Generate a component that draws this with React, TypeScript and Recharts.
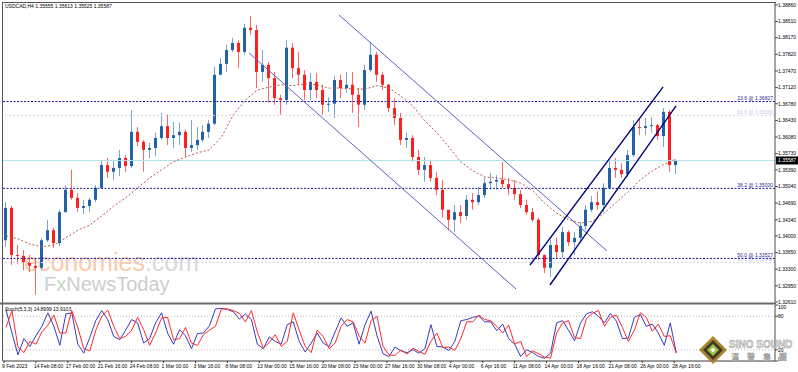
import React from 'react';
import {
  ComposedChart,
  LineChart,
  Bar,
  Line,
  XAxis,
  YAxis,
  ReferenceLine,
} from 'recharts';

// USDCAD H4, one candle here = three H4 bars (12h)
const firstOpen = 1.3391;

const closes = [
  1.3459, 1.336, 1.3358, 1.3345, 1.3337, 1.3333, 1.3391, 1.3412, 1.3385, 1.345,
  1.3497, 1.348, 1.3459, 1.3463, 1.3476, 1.3501, 1.3549, 1.3535, 1.3543, 1.3564,
  1.3547, 1.3619, 1.3598, 1.3581, 1.3585, 1.3606, 1.3631, 1.3606, 1.3612, 1.3619,
  1.3585, 1.3591, 1.3602, 1.3619, 1.3636, 1.3739, 1.3762, 1.3791, 1.3806, 1.3787,
  1.3838, 1.3833, 1.3745, 1.376, 1.3732, 1.369, 1.3686, 1.3796, 1.3753, 1.3739,
  1.3707, 1.3724, 1.3707, 1.3676, 1.3678, 1.3728, 1.3711, 1.3718, 1.3697, 1.3676,
  1.3749, 1.3781, 1.3739, 1.3718, 1.3669, 1.3648, 1.3602, 1.3606, 1.3566, 1.3539,
  1.3549, 1.3522, 1.3497, 1.3455, 1.3434, 1.345, 1.3442, 1.3476, 1.3471, 1.3486,
  1.3511, 1.3514, 1.3518, 1.3509, 1.3501, 1.3488, 1.3465, 1.345, 1.3434, 1.336,
  1.3333, 1.3381, 1.3366, 1.3408, 1.3387, 1.3396, 1.3421, 1.3455, 1.3471, 1.3465,
  1.3501, 1.3543, 1.3539, 1.353, 1.357, 1.3629, 1.3627, 1.3631, 1.3633, 1.361,
  1.3661, 1.3549, 1.35587,
];

const highs = [
  1.3471, 1.3463, 1.3381, 1.337, 1.336, 1.3354, 1.3396, 1.3434, 1.3417, 1.3455,
  1.3507, 1.3539, 1.349, 1.3476, 1.348, 1.3507, 1.356, 1.3564, 1.356, 1.3581,
  1.357, 1.3665, 1.3629, 1.3602, 1.3596, 1.3617, 1.3659, 1.3655, 1.364, 1.3638,
  1.3623, 1.3644, 1.3629, 1.3633, 1.3644, 1.3756, 1.3774, 1.3802, 1.3817, 1.3812,
  1.3846, 1.3863, 1.3844, 1.3791, 1.3766, 1.3745, 1.3697, 1.3812, 1.3806, 1.3787,
  1.3749, 1.3743, 1.3743, 1.3718, 1.3692, 1.3737, 1.3739, 1.3745, 1.3745, 1.3711,
  1.376, 1.3808, 1.3787, 1.3745, 1.372, 1.369, 1.3659, 1.3617, 1.3612, 1.3581,
  1.3566, 1.356, 1.3535, 1.3518, 1.3455, 1.3465, 1.3465, 1.3486, 1.349, 1.3503,
  1.3522, 1.3532, 1.3528, 1.3556, 1.3522, 1.3518, 1.3497, 1.3476, 1.3459, 1.3438,
  1.336, 1.3391, 1.3396, 1.3419, 1.3412, 1.3408, 1.3429, 1.3465, 1.3484, 1.3493,
  1.3511, 1.356, 1.3564, 1.3553, 1.3581, 1.3644, 1.3648, 1.3648, 1.365, 1.3636,
  1.3669, 1.3665, 1.35613,
];

const lows = [
  1.3377, 1.3339, 1.3341, 1.3328, 1.3324, 1.3276, 1.3328, 1.3387, 1.3375, 1.3379,
  1.345, 1.3476, 1.345, 1.3446, 1.345, 1.3471, 1.3501, 1.3522, 1.3518, 1.3526,
  1.3535, 1.3543, 1.3589, 1.3535, 1.3564, 1.3568, 1.3602, 1.3591, 1.3585, 1.3591,
  1.3566, 1.3577, 1.3581, 1.3598, 1.3606, 1.3633, 1.3739, 1.3745, 1.3787, 1.3753,
  1.3781, 1.3823, 1.3711, 1.3724, 1.368, 1.3676, 1.3655, 1.3676, 1.3732, 1.3718,
  1.3686, 1.3686, 1.369, 1.3655, 1.3661, 1.3648, 1.369, 1.3701, 1.3659, 1.3629,
  1.3665, 1.3745, 1.3724, 1.3707, 1.3661, 1.3633, 1.3591, 1.3585, 1.3556, 1.3528,
  1.3514, 1.3514, 1.3486, 1.3438, 1.3412, 1.3408, 1.3427, 1.3434, 1.3455, 1.3465,
  1.348, 1.3497, 1.3497, 1.3501, 1.3486, 1.3476, 1.3459, 1.3444, 1.3429, 1.3349,
  1.3322, 1.3314, 1.3354, 1.3354, 1.3379, 1.336, 1.3387, 1.3412, 1.345, 1.3455,
  1.345, 1.3497, 1.3522, 1.3522, 1.3524, 1.3566, 1.3612, 1.3612, 1.3617, 1.3602,
  1.3587, 1.3535, 1.353,
];

// moving average, read on every second candle
const maPoints = [
  1.34, 1.3394, 1.3383, 1.3377, 1.3381, 1.3396, 1.3412, 1.3423, 1.3442, 1.3463,
  1.348, 1.3501, 1.3522, 1.3539, 1.3556, 1.3566, 1.3575, 1.3581, 1.3608, 1.3655,
  1.3686, 1.3707, 1.3713, 1.3718, 1.3716, 1.372, 1.3718, 1.3711, 1.3711, 1.3709,
  1.3709, 1.3716, 1.3711, 1.3694, 1.3673, 1.3642, 1.3617, 1.3587, 1.3556, 1.3537,
  1.3524, 1.3522, 1.3518, 1.3511, 1.3495, 1.3469, 1.3448, 1.3434, 1.3427, 1.3431,
  1.3448, 1.3471, 1.3493, 1.3518, 1.3537, 1.3551, 1.3562,
];

const stochK = [
  92, 50, 11, 40, 26, 45, 62, 86, 62, 28,
  84, 86, 30, 14, 42, 72, 90, 74, 44, 38,
  55, 74, 68, 32, 40, 68, 86, 50, 30, 56,
  45, 22, 49, 50, 63, 93, 94, 92, 88, 75,
  84, 74, 30, 22, 43, 35, 30, 65, 70, 35,
  16, 32, 50, 32, 26, 52, 77, 62, 68, 30,
  65, 89, 45, 13, 8, 25, 18, 15, 20, 14,
  22, 65, 26, 25, 19, 35, 72, 74, 78, 80,
  70, 70, 54, 66, 40, 30, 8, 20, 15, 8,
  5, 14, 68, 72, 55, 36, 68, 84, 88, 80,
  68, 85, 71, 40, 41, 78, 83, 62, 66, 50,
  28, 68, 14.8999,
];

const stochD = [
  60, 90, 25, 15, 35, 30, 52, 64, 82, 50,
  50, 90, 60, 22, 18, 55, 80, 91, 62, 40,
  44, 55, 78, 56, 28, 50, 77, 78, 38, 40,
  60, 32, 28, 47, 55, 62, 93, 93, 90, 85,
  70, 90, 52, 23, 33, 47, 26, 35, 86, 55,
  26, 15, 55, 44, 22, 32, 62, 74, 70, 45,
  32, 72, 80, 26, 11, 10, 20, 12, 23, 17,
  12, 35, 50, 24, 25, 19, 40, 70, 70, 82,
  74, 72, 62, 50, 64, 30, 35, 8, 18, 13,
  7, 5, 50, 68, 72, 42, 40, 76, 85, 90,
  62, 78, 82, 60, 35, 55, 86, 78, 53, 66,
  44, 45, 13.9103,
];

const priceTicks = [
  1.3886, 1.3851, 1.3817, 1.3782, 1.3747, 1.3712, 1.3678, 1.3643, 1.3608, 1.3573,
  1.3539, 1.3504, 1.3469, 1.3434, 1.34, 1.3365, 1.333, 1.3295, 1.3261,
];
const stochTicks = [0, 20, 80, 100];

// positions in H4 bars from the first label
const dateTicks = [0, 16, 32, 48, 64, 80, 96, 112, 128, 144, 160, 176, 192, 208, 224, 240, 256, 272, 288, 304, 320, 336];
const dateLabels = [
  '9 Feb 2023', '14 Feb 08:00', '17 Feb 00:00', '21 Feb 16:00', '24 Feb 08:00', '1 Mar 00:00',
  '3 Mar 16:00', '8 Mar 08:00', '13 Mar 00:00', '15 Mar 16:00', '20 Mar 08:00', '23 Mar 00:00',
  '27 Mar 16:00', '30 Mar 08:00', '4 Apr 00:00', '6 Apr 16:00', '11 Apr 08:00', '14 Apr 00:00',
  '18 Apr 16:00', '21 Apr 08:00', '26 Apr 00:00', '28 Apr 16:00',
];

const fibLevels = [
  { text: '23.6 @ 1.36827', price: 1.36827 },
  { text: '38.2 @ 1.35000', price: 1.35 },
  { text: '50.0 @ 1.33527', price: 1.33527 },
];
const fibFaint = [
  { text: '61.8 @ 1.36536', price: 1.36536 },
  { text: '50.0 @ 1.33440', price: 1.3344 },
];
const lastPrice = 1.35587;

// drawn channels, [bar, price] end points
const downChannel = [
  [[167.9, 1.38649], [302.3, 1.33683]],
  [[122.8, 1.3785], [256.7, 1.32883]],
];
const upChannel = [
  [[263.7, 1.33388], [330.4, 1.37134]],
  [[273.7, 1.32968], [336.9, 1.36734]],
];

const candles = closes.map((c, i) => ({
  h: i * 3 + 1,
  open: i === 0 ? firstOpen : closes[i - 1],
  high: highs[i],
  low: lows[i],
  close: c,
  range: [lows[i], highs[i]],
  ma: i % 2 === 0 ? maPoints[i / 2] : null,
}));

const stoch = stochK.map((k, i) => ({ h: i * 3 + 1, k, d: stochD[i] }));

const FONT = '"Liberation Sans", Arial, sans-serif';

function Candle(props: any) {
  const { x, y, width, height, payload } = props;
  if (!payload || payload.high === payload.low) return null;
  const top = Math.min(y, y + height);
  const span = Math.abs(height);
  const k = span / (payload.high - payload.low);
  const yOf = (v: number) => top + (payload.high - v) * k;
  const up = payload.close >= payload.open;
  const cx = Math.floor(x + width / 2) + 0.5;
  const bTop = yOf(Math.max(payload.open, payload.close));
  const bBot = yOf(Math.min(payload.open, payload.close));
  return (
    <g>
      <line x1={cx} x2={cx} y1={top} y2={top + span} stroke={up ? '#7aa3cd' : '#ff6565'} strokeWidth={1} />
      <rect x={cx - 1.5} y={bTop} width={3} height={Math.max(1, bBot - bTop)} fill={up ? '#2462a8' : '#ff1f1f'} />
    </g>
  );
}

function FibLabel(props: any) {
  const { viewBox, text, color } = props;
  if (!viewBox) return null;
  return (
    <text x={viewBox.x + viewBox.width - 2} y={viewBox.y - 1.5} textAnchor="end" fontSize={5} fill={color} fontFamily={FONT}>
      {text}
    </text>
  );
}

function PriceTag(props: any) {
  const { viewBox } = props;
  if (!viewBox) return null;
  const x = viewBox.x + viewBox.width + 1;
  return (
    <g>
      <rect x={x} y={viewBox.y - 4} width={22} height={8} fill="#000" />
      <text x={x + 2} y={viewBox.y + 2} fontSize={5} fill="#fff" fontFamily={FONT}>
        {lastPrice.toFixed(5)}
      </text>
    </g>
  );
}

function DateTick(props: any) {
  const { x, y, payload } = props;
  const idx = dateTicks.indexOf(payload.value);
  return (
    <g>
      <line x1={x} x2={x} y1={y} y2={y + 2} stroke="#333" />
      <text x={x - 2} y={y + 7} fontSize={5} fill="#000" fontFamily={FONT}>
        {dateLabels[idx]}
      </text>
    </g>
  );
}

function StochTick(props: any) {
  const { x, y, payload } = props;
  // top label sits a little lower, clear of the price axis
  const dy = payload.value === 100 ? 2.5 : payload.value === 0 ? -1.5 : 0;
  return (
    <text x={x} y={y + dy + 1.8} fontSize={5} fill="#000" fontFamily={FONT}>
      {payload.value}
    </text>
  );
}

export default function App() {
  return (
    <div
      style={{
        position: 'absolute',
        left: 0,
        top: 0,
        width: 798,
        height: 372,
        background: '#fff',
        overflow: 'hidden',
        fontFamily: FONT,
      }}
    >
      {/* watermark */}
      <svg width={798} height={372} style={{ position: 'absolute', left: 0, top: 0 }}>
        <text x={24} y={271} fontSize={25} fontFamily={FONT} fill="#fccaa8">
          economies<tspan fill="#d9d9d9">.com</tspan>
        </text>
        <text x={44} y={291} fontSize={20} fontFamily={FONT} fill="#cdcdcd">
          F<tspan fill="#c6d6c6">x</tspan>NewsToday
        </text>
      </svg>

      <div style={{ position: 'absolute', left: 0, top: 0 }}>
        <ComposedChart width={798} height={306} data={candles} margin={{ top: 3, right: 0, bottom: 4, left: 3 }}>
          <XAxis type="number" dataKey="h" domain={[-0.5, 386.5]} hide allowDataOverflow />
          <YAxis
            orientation="right"
            type="number"
            domain={[1.3261, 1.389]}
            ticks={priceTicks}
            interval={0}
            width={23}
            tickSize={3}
            tickMargin={0}
            allowDataOverflow
            axisLine={{ stroke: '#4a4a4a' }}
            tickLine={{ stroke: '#4a4a4a' }}
            tick={{ fontSize: 5, fill: '#000', fontFamily: FONT }}
            tickFormatter={(v: number) => v.toFixed(5)}
          />
          {fibFaint.map((f) => (
            <ReferenceLine
              key={f.text}
              y={f.price}
              stroke="#d4d4ec"
              strokeDasharray="2 2"
              label={<FibLabel text={f.text} color="#c8c8e8" />}
            />
          ))}
          {fibLevels.map((f) => (
            <ReferenceLine
              key={f.text}
              y={f.price}
              stroke="#1a1a9a"
              strokeDasharray="2 1.5"
              label={<FibLabel text={f.text} color="#2a2a9a" />}
            />
          ))}
          <ReferenceLine y={lastPrice} stroke="#b4e2ea" label={<PriceTag />} />
          <Bar dataKey="range" barSize={3} isAnimationActive={false} shape={(p: any) => <Candle {...p} />} />
          <Line
            dataKey="ma"
            connectNulls
            dot={false}
            stroke="#b5584a"
            strokeWidth={1}
            strokeDasharray="2 2"
            isAnimationActive={false}
          />
          {downChannel.map((s, i) => (
            <ReferenceLine
              key={'d' + i}
              segment={[{ x: s[0][0], y: s[0][1] }, { x: s[1][0], y: s[1][1] }]}
              stroke="#6262b8"
              strokeWidth={1}
            />
          ))}
          {upChannel.map((s, i) => (
            <ReferenceLine
              key={'u' + i}
              segment={[{ x: s[0][0], y: s[0][1] }, { x: s[1][0], y: s[1][1] }]}
              stroke="#00007a"
              strokeWidth={1.4}
            />
          ))}
        </ComposedChart>
      </div>

      <div style={{ position: 'absolute', left: 0, top: 304 }}>
        <LineChart width={798} height={68} data={stoch} margin={{ top: 1, right: 0, bottom: 0, left: 3 }}>
          <XAxis
            type="number"
            dataKey="h"
            domain={[-0.5, 386.5]}
            allowDataOverflow
            ticks={dateTicks}
            interval={0}
            height={11}
            tickSize={0}
            tickMargin={0}
            tickLine={false}
            axisLine={{ stroke: '#3a3a3a' }}
            tick={<DateTick />}
          />
          <YAxis
            orientation="right"
            type="number"
            domain={[0, 100]}
            ticks={stochTicks}
            interval={0}
            width={23}
            tickSize={3}
            tickMargin={0}
            axisLine={{ stroke: '#4a4a4a' }}
            tickLine={{ stroke: '#4a4a4a' }}
            tick={<StochTick />}
          />
          <ReferenceLine y={80} stroke="#b9b9b9" strokeDasharray="1 2" />
          <ReferenceLine y={20} stroke="#b9b9b9" strokeDasharray="1 2" />
          <Line dataKey="k" stroke="#3a3abf" strokeWidth={1} dot={false} isAnimationActive={false} />
          <Line dataKey="d" stroke="#ff2b2b" strokeWidth={1} dot={false} isAnimationActive={false} />
        </LineChart>
      </div>

      {/* frame, captions and logo */}
      <svg width={798} height={372} style={{ position: 'absolute', left: 0, top: 0, pointerEvents: 'none' }}>
        <line x1={2.5} x2={2.5} y1={2} y2={361} stroke="#555" />
        <line x1={2} x2={776} y1={2.5} y2={2.5} stroke="#555" />
        <rect x={0} y={302.5} width={776} height={2} fill="#6a6a6a" />
        <text x={5} y={8} fontSize={5} fill="#000" fontFamily={FONT}>
          USDCAD,H4  1.35555 1.35613 1.35525 1.35587
        </text>
        <text x={5} y={311} fontSize={5} fill="#000" fontFamily={FONT}>
          Stoch(5,3,3) 14.8999 13.9103
        </text>
        <g>
          <polygon points="713,336 727,350 713,364 699,350" fill="#a8842e" />
          <polygon points="713,340 723,350 713,360 703,350" fill="#3d3a2c" />
          <polygon points="713,344 719,350 713,356 707,350" fill="#9cc444" />
          <polygon points="713,347.5 715.5,350 713,352.5 710.5,350" fill="#fff" />
        </g>
        <text
          x={729}
          y={348}
          fontSize={10}
          fontWeight="bold"
          fill="#e4e4e4"
          stroke="#9c9c9c"
          strokeWidth={0.5}
          fontFamily={FONT}
        >
          SINO SOUND
        </text>
        <text x={731} y={360} fontSize={8} fill="#e0e0e0" stroke="#a0a0a0" strokeWidth={0.4} letterSpacing={8} fontFamily='"Noto Sans CJK TC", sans-serif'>
          漢聲集團
        </text>
      </svg>
    </div>
  );
}
